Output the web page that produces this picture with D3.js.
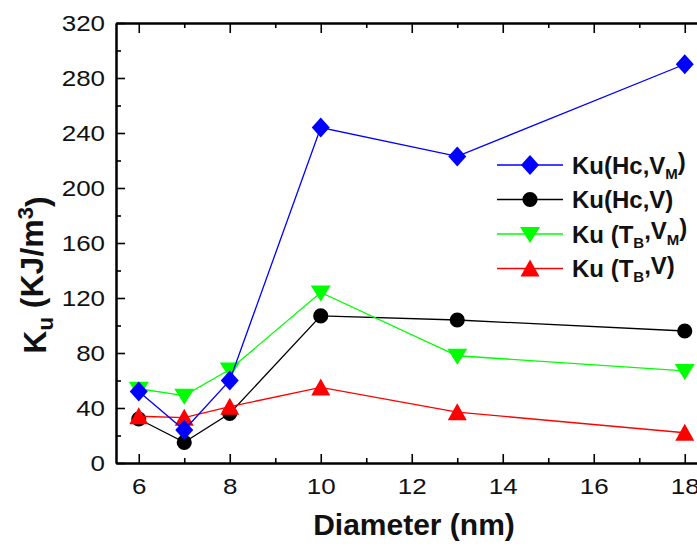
<!DOCTYPE html>
<meta charset="utf-8">
<style>
body { margin: 0; background: #fff; }
svg { display: block; }
.axis path, .axis line { stroke: #000; }
.axis path { stroke-width: 2px; }
.axis line { stroke-width: 1.6px; }
.axis text { font: 22px "Liberation Sans", Arial, sans-serif; fill: #111; }
.title { font: bold 30px "Liberation Sans", Arial, sans-serif; fill: #111; }
.legend text { font: bold 24px "Liberation Sans", Arial, sans-serif; fill: #111; }
.series path.line { fill: none; stroke-width: 1.3px; }
</style>
<svg width="697" height="550"></svg>
<script src="https://cdn.jsdelivr.net/npm/d3@7"></script>
<script>

// diameter (nm)
var diameters = [6, 7, 8, 10, 13, 18];

// Ku values (KJ/m3)
var kuHcVm = [52, 24, 60, 244, 223, 290];
var kuHcV  = [32, 15, 36, 107, 104, 96];
var kuTbVm = [54, 49, 68, 124, 78, 67];
var kuTbV  = [34, 33, 41, 55, 37, 22];

var xTicks = [6, 8, 10, 12, 14, 16, 18],
    yTicks = [0, 40, 80, 120, 160, 200, 240, 280, 320];

var svg = d3.select("svg"),
    plotLeft = 116, plotTop = 23, plotBottom = 463,
    stretch = 1.18;   // tick digits in the source are a bit wide

var x = d3.scaleLinear().domain([5.5, 18.5]).range([plotLeft, plotLeft + 13 * 45.5]),
    y = d3.scaleLinear().domain([0, 320]).range([plotBottom, plotTop]);

// series: label parts, values, colour, symbol
var series = [
  {label: [["Ku(Hc,V"], ["M", "sub"], [")"]], values: kuHcVm, color: "#0000ff", symbol: "diamond"},
  {label: [["Ku(Hc,V)"]], values: kuHcV, color: "#000000", symbol: "circle"},
  {label: [["Ku (T"], ["B", "sub"], [",V"], ["M", "sub"], [")"]], values: kuTbVm, color: "#00ff00", symbol: "down"},
  {label: [["Ku (T"], ["B", "sub"], [",V)"]], values: kuTbV, color: "#ff0000", symbol: "up"}
];

function symbolPath(type) {
  if (type === "diamond") return "M0,-10L9,0L0,10L-9,0Z";
  if (type === "circle") return d3.symbol(d3.symbolCircle, 180)();
  if (type === "down") return "M-10,-7L10,-7L0,9Z";
  return "M-9.5,8L9.5,8L0,-9Z";
}

// axes, ticks pointing inward
var minorX = d3.range(7, 19, 2),
    minorY = d3.range(20, 320, 40);

svg.append("g").attr("class", "axis")
    .attr("transform", "translate(0," + plotBottom + ")")
    .call(d3.axisBottom(x).tickValues(xTicks).tickSize(-9).tickSizeOuter(0).tickPadding(15))
    .call(function(g) { g.selectAll("text").attr("transform", "scale(" + stretch + ",1)"); });
svg.append("g").attr("class", "axis")
    .attr("transform", "translate(0," + plotBottom + ")")
    .call(d3.axisBottom(x).tickValues(minorX).tickSize(-5).tickSizeOuter(0).tickFormat(""));

svg.append("g").attr("class", "axis")
    .attr("transform", "translate(0," + plotTop + ")")
    .call(d3.axisTop(x).tickValues(xTicks).tickSize(-10).tickSizeOuter(0).tickFormat(""));
svg.append("g").attr("class", "axis")
    .attr("transform", "translate(0," + plotTop + ")")
    .call(d3.axisTop(x).tickValues(minorX).tickSize(-5).tickSizeOuter(0).tickFormat(""));

svg.append("g").attr("class", "axis")
    .attr("transform", "translate(" + plotLeft + ",0)")
    .call(d3.axisLeft(y).tickValues(yTicks).tickSize(-9).tickSizeOuter(0))
    .call(function(g) {
      g.selectAll("text")
          .attr("x", -11 / stretch)
          .attr("transform", "scale(" + stretch + ",1)");
    });
svg.append("g").attr("class", "axis")
    .attr("transform", "translate(" + plotLeft + ",0)")
    .call(d3.axisLeft(y).tickValues(minorY).tickSize(-5).tickSizeOuter(0).tickFormat(""));

// titles
svg.append("text").attr("class", "title")
    .attr("x", 414).attr("y", 535)
    .attr("text-anchor", "middle")
    .text("Diameter (nm)");

var yt = svg.append("text").attr("class", "title")
    .attr("transform", "translate(46,275) rotate(-90)")
    .attr("text-anchor", "middle")
    .style("font-size", "32px");
yt.append("tspan").text("K");
yt.append("tspan").attr("dy", "0.3em").style("font-size", "22px").text("u");
yt.append("tspan").attr("dy", "-0.3em").text(" (KJ/m");
yt.append("tspan").attr("dy", "-0.45em").style("font-size", "22px").text("3");
yt.append("tspan").attr("dy", "0.45em").text(")");

// data
var line = d3.line()
    .x(function(d, i) { return x(diameters[i]); })
    .y(function(d) { return y(d); });

var drawOrder = [1, 2, 3, 0];
drawOrder.forEach(function(k) {
  var s = series[k];
  var g = svg.append("g").attr("class", "series");
  g.append("path").attr("class", "line")
      .attr("d", line(s.values))
      .style("stroke", s.color);
  g.selectAll(".pt")
      .data(s.values)
    .enter().append("path")
      .attr("class", "pt")
      .attr("transform", function(d, i) { return "translate(" + x(diameters[i]) + "," + y(d) + ")"; })
      .attr("d", symbolPath(s.symbol))
      .style("fill", s.color);
});

// legend
var legend = svg.append("g").attr("class", "legend")
    .selectAll("g")
    .data(series)
  .enter().append("g")
    .attr("transform", function(d, i) { return "translate(497," + (165 + i * 34.5) + ")"; });

legend.append("line")
    .attr("x1", 0).attr("x2", 66)
    .style("stroke", function(d) { return d.color; })
    .style("stroke-width", "1.3px");
legend.append("path")
    .attr("transform", "translate(33,0)")
    .attr("d", function(d) { return symbolPath(d.symbol); })
    .style("fill", function(d) { return d.color; });

legend.append("text")
    .attr("x", 75).attr("y", 8.5)
    .each(function(d) {
      var t = d3.select(this), shifted = false;
      d.label.forEach(function(p) {
        var ts = t.append("tspan").text(p[0]);
        if (p[1] === "sub") {
          ts.attr("dy", "0.35em").style("font-size", "15px");
          shifted = true;
        } else if (shifted) {
          ts.attr("dy", "-0.35em");
          shifted = false;
        }
      });
    });

</script>
